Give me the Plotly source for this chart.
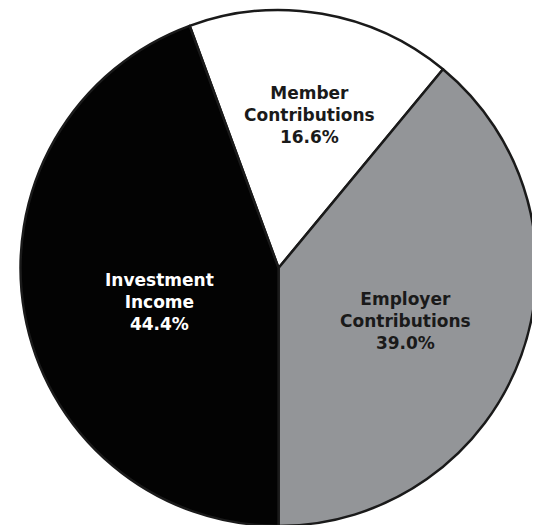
import plotly.graph_objects as go

categories = ["Member<br>Contributions", "Employer<br>Contributions", "Investment<br>Income"]
values = [16.6, 39.0, 44.4]
colors = ["#ffffff", "#939598", "#030303"]
text_colors = ["#1a1a1a", "#1a1a1a", "#ffffff"]
label_pos = [(0.559, 0.796), (0.737, 0.404), (0.281, 0.44)]

fig = go.Figure(go.Pie(
    labels=categories,
    values=values,
    sort=False,
    direction="clockwise",
    rotation=-20.16,
    marker=dict(colors=colors, line=dict(color="#1a1a1a", width=2.5)),
    textinfo="none",
    hoverinfo="label+percent",
    domain=dict(x=[0.023, 0.979], y=[0.0133, 0.9962]),
))

total = sum(values)
for cat, v, tc, (px, py) in zip(categories, values, text_colors, label_pos):
    fig.add_annotation(
        x=px, y=py, xref="paper", yref="paper",
        text=f"{cat}<br>{v / total * 100:.1f}%",
        showarrow=False, xanchor="center", yanchor="middle", align="center",
        font=dict(family="DejaVu Sans", size=17, color=tc, weight="bold"),
    )

fig.update_layout(
    width=540, height=525,
    margin=dict(l=0, r=0, t=0, b=0),
    showlegend=False,
    paper_bgcolor="white",
    plot_bgcolor="white",
)

fig.write_html("out.html")
